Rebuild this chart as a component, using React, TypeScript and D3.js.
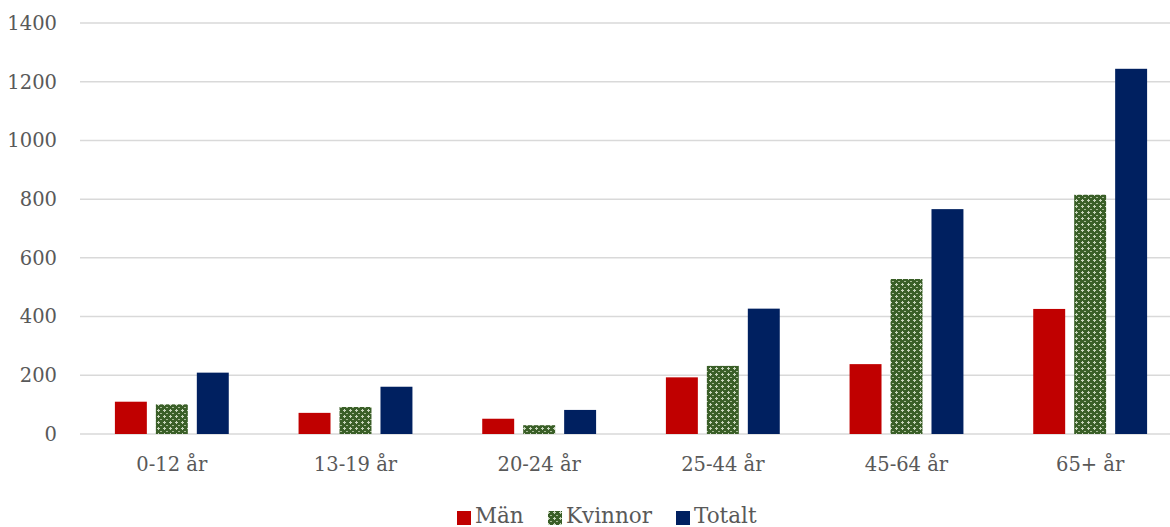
import React from "react";
import * as d3 from "d3";

const categories = ["0-12 år", "13-19 år", "20-24 år", "25-44 år", "45-64 år", "65+ år"];
const seriesNames = ["Män", "Kvinnor", "Totalt"];
const man = [110, 72, 52, 193, 238, 426];
const kvinnor = [101, 92, 30, 232, 528, 815];
const totalt = [209, 161, 82, 427, 766, 1244];
const yTicks = [0, 200, 400, 600, 800, 1000, 1200, 1400];

const W = 1170, H = 527;
const plotLeft = 80, plotRight = 1182, plotTop = 23, plotBottom = 434;
const fills = ["#C00000", "url(#conf)", "#002060"];
const font = "'DejaVu Serif', serif";

export default function App() {
  const x = d3.scaleBand<string>().domain(categories).range([plotLeft, plotRight]).paddingInner(0.38).paddingOuter(0.19);
  const inner = d3.scaleBand<string>().domain(seriesNames).range([0, x.bandwidth()]).paddingInner(0.22);
  const y = d3.scaleLinear().domain([0, 1400]).range([plotBottom, plotTop]);
  const data = [man, kvinnor, totalt];
  const legendX = [457, 548, 676];
  return (
    <svg width={W} height={H} style={{ position: "absolute", left: 0, top: 0 }}>
      <defs>
        <pattern id="conf" width="6" height="6" patternUnits="userSpaceOnUse">
          <rect width="6" height="6" fill="#3A5F28" />
          <rect x="1" y="2" width="3" height="1" fill="#C9D6BD" />
          <rect x="2" y="1" width="1" height="3" fill="#C9D6BD" />
          <rect x="4" y="5" width="2" height="1" fill="#A9BC98" />
        </pattern>
      </defs>
      <rect width={W} height={H} fill="#fff" />
      {yTicks.map((t) => (
        <g key={t}>
          <line x1={plotLeft} x2={W} y1={y(t)} y2={y(t)} stroke="#D9D9D9" strokeWidth={1.5} />
          <text x={57} y={y(t)} dy="0.35em" textAnchor="end" fontFamily={font} fontSize={19.5} fill="#595959">{t}</text>
        </g>
      ))}
      {categories.map((c, i) => (
        <g key={c}>
          {seriesNames.map((s, j) => (
            <rect key={s} x={(x(c) as number) + (inner(s) as number)} width={inner.bandwidth()} y={y(data[j][i])} height={y(0) - y(data[j][i])} fill={fills[j]} />
          ))}
          <text x={(x(c) as number) + x.bandwidth() / 2} y={471} textAnchor="middle" fontFamily={font} fontSize={19.5} fill="#595959">{c}</text>
        </g>
      ))}
      {seriesNames.map((s, j) => (
        <g key={s}>
          <rect x={legendX[j]} y={511} width={14} height={14} fill={fills[j]} />
          <text x={legendX[j] + 18} y={523} fontFamily={font} fontSize={21.5} fill="#595959">{s}</text>
        </g>
      ))}
    </svg>
  );
}
